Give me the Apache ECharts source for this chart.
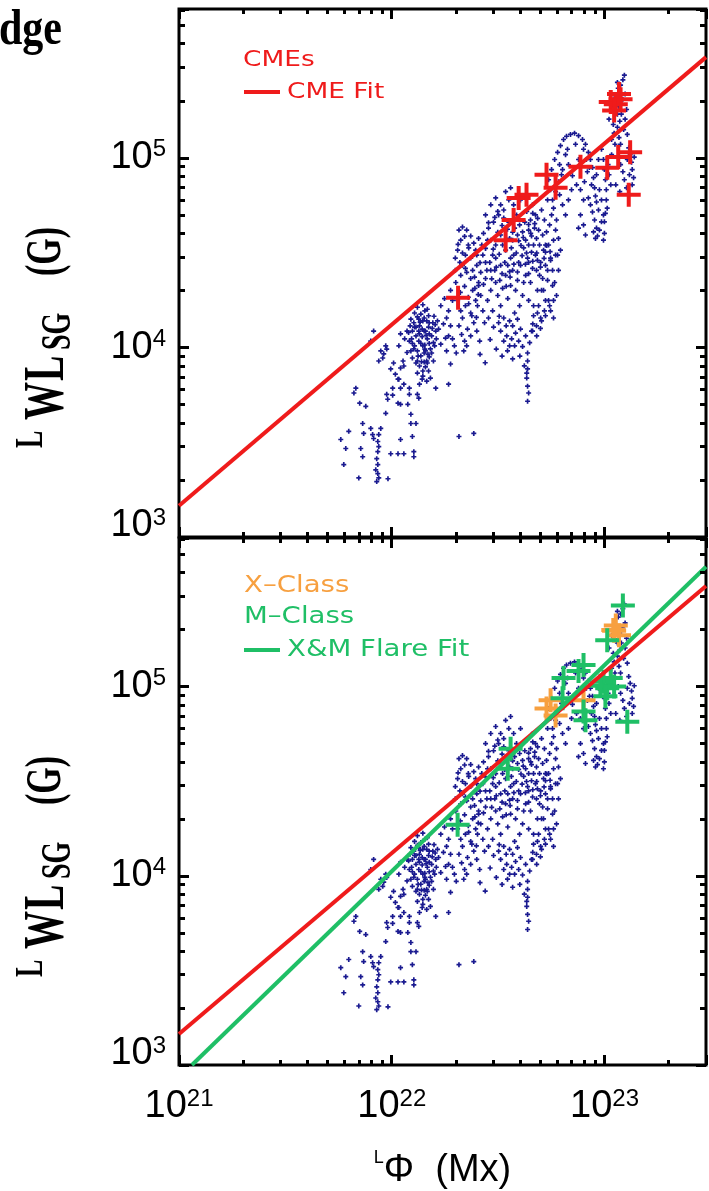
<!DOCTYPE html>
<html><head><meta charset="utf-8">
<script src="https://cdn.jsdelivr.net/npm/echarts@6/dist/echarts.min.js"></script>
<style>html,body{margin:0;padding:0;background:#fff}#c{width:709px;height:1191px}</style>
</head><body><div id="c"></div>
<script>
// Values: x = flux in units of 1e22 Mx, y = field in G
const bgPoints = [
[0.576,3270],[0.608,2930],[0.595,2410],[0.70,2050],[0.628,3610],[0.738,3520],[0.797,3740],[0.73,3970],[0.707,5080],[0.755,4890],
[0.678,6100],[0.664,5750],[0.715,2930],[0.73,2650],[0.813,3470],[0.888,3740],[0.869,3470],[0.86,3190],[0.869,3000],[0.86,2820],
[0.85,2590],[0.86,2410],[0.841,2260],[0.86,2160],[0.85,1960],[0.869,2050],[0.96,2030],[0.822,3310],[0.989,2750],[1.07,2750],
[1.14,2750],[1.27,2820],[1.27,2650],[1.10,3270],[1.25,3390],[1.23,3970],[1.30,3970],[0.937,4490],[1.23,4440],[1.19,5010],
[1.21,5660],[1.14,6400],[1.07,5080],[1.10,5010],[1.34,5400],[1.32,5660],[0.947,5660],[1.01,5600],[0.957,5330],[0.989,7700],
[1.04,7230],[1.07,6800],[1.10,7790],[1.01,6100],[1.02,8280],[1.13,8480],[1.14,7980],[1.08,6800],[1.10,6100],[1.21,6100],
[0.888,9590],[0.917,9250],[0.947,9800],[0.907,8800],[0.822,12200],[0.797,10800],[1.85,6400],[1.89,8180],[2.07,3390],[2.43,3520],
[1.61,6100],[1.52,6890],[1.57,8480],[1.70,10400],[1.79,11200],[1.75,13300],[1.64,13800],[0.937,10200],[0.869,8480],[1.10,11800],
[1.15,11100],[1.08,10200],[1.18,12200],[1.70,16600],[1.77,18100],[1.85,15600],[1.93,17700],[1.89,20000],[1.81,14300],[2.15,27100],
[2.25,24900],
[1.23,14100],[1.27,13500],[1.32,14500],[1.35,13000],[1.40,13800],[1.44,12200],[1.49,12800],[1.25,12200],[1.30,11500],[1.34,10800],
[1.39,11400],[1.43,10300],[1.47,11100],[1.52,9820],[1.28,10200],[1.32,9590],[1.37,9020],[1.42,9350],[1.46,8480],[1.50,8910],
[1.32,8480],[1.35,7980],[1.40,7510],[1.44,7890],[1.54,11500],[1.57,10600],[1.61,12200],[1.21,10800],[1.23,9590],[1.25,8800],
[1.34,12200],[1.39,12500],[1.28,12800],[1.46,13800],[1.37,15000],[1.43,15600],[1.49,14700],[1.56,13500],[1.32,7320],[1.39,6800],
[1.35,6400],[1.42,8380],[1.40,7060],[1.46,6640],[1.49,7510],
[1.22,13000],[1.24,11100],[1.27,9820],[1.30,8280],[1.34,14100],[1.37,10500],[1.42,12200],[1.44,9590],[1.47,8280],[1.50,11800],
[1.54,9350],[1.59,10200],[1.62,11100],[1.32,16300],[1.40,16800],[1.47,15900],
[1.25,10500],[1.30,12800],[1.35,11800],[1.40,10200],[1.45,11600],[1.50,10500],[1.55,12600],[1.60,13200],[1.33,9000],[1.38,8400],
[1.43,9800],[1.48,9200],[1.36,13600],[1.42,14300],[1.28,15200],[1.20,12000],[1.18,9400],[1.50,13500],[1.58,14600],[1.66,12500],
[2.04,17700],[2.11,15600],[2.15,14300],[2.22,16600],[2.29,18400],[2.35,15200],[2.40,20000],[2.48,17700],[2.56,21200],[2.62,18800],
[2.68,15600],[2.07,13000],[2.13,11700],[2.20,10800],[2.27,12500],[2.35,11500],[2.43,13500],[2.51,12200],[2.59,10800],[2.18,9590],
[2.25,10200],[2.38,14700],[2.46,20500],[2.53,16600],[1.89,13000],[1.93,11100],[1.97,10200],[2.01,9350],[1.85,11500],[1.81,9590],
[2.82,17700],[2.92,20000],[2.98,15600],[3.08,22000],[3.15,18800],[3.25,16600],[3.32,20500],[3.43,24000],[3.51,18100],[3.62,21200],
[3.70,25500],[3.82,20000],[3.90,22600],[4.03,27100],[4.12,18800],[4.26,24000],[4.35,29600],[4.49,22000],[4.59,26100],[4.74,30700],
[4.84,20000],[5.01,28100],[5.12,23100],[5.28,31800],[5.40,25500],[5.58,28800],[5.70,21200],[5.89,30700],[5.46,17700],[5.22,15600],
[4.90,16600],[4.64,14700],[4.40,17700],[3.99,16600],[3.78,15200],[3.58,13800],[3.36,14300],[3.18,13500],[3.01,12800],[2.85,14300],
[2.73,13500],[3.70,13000],[3.82,11900],[3.95,10800],[4.03,12500],[4.12,10100],[4.26,11500],[4.35,9350],[4.45,10600],[4.54,12200],
[3.78,10200],[3.90,14100],[4.35,8480],[4.35,7700],[4.31,6890],[4.35,6250],[4.40,5750],[4.35,5200],[4.31,7320],[4.64,16600],
[4.84,15200],[5.06,13800],[5.28,14700],[5.52,16600],[5.76,17700],[3.25,12200],[3.36,10800],[3.47,11500],[3.58,10200],[3.66,11100],
[2.76,23100],
[2.90,11000],[3.10,9800],[3.30,9000],[3.50,9600],[3.70,8700],[2.60,9200],[2.75,8300],[4.00,9000],[4.20,8000],[3.20,14600],
[3.45,13000],[2.50,14400],[4.60,13300],[4.80,11500],[5.00,12600],
[2.00,22000],[2.10,19500],[2.20,21000],[2.30,17000],[2.45,23500],[2.55,19000],[2.70,21500],[2.80,25500],[2.95,23000],[3.10,26500],
[3.30,24500],[3.45,21000],[3.60,23500],[3.75,27500],[3.90,25000],[4.10,30500],[4.25,27500],[4.40,24500],[4.60,28500],[4.80,31500],
[5.00,26500],[5.20,29500],[5.35,34500],[5.55,32000],[3.00,33000],[3.20,31000],[3.40,36500],[3.65,33500],[3.85,31500],[4.05,34500],
[4.30,31500],[4.50,40000],[4.70,45000],[4.85,48000],[2.60,28000],[2.45,31000],[2.30,33500],[2.15,31500],[2.05,35000],[2.20,38500],
[2.70,40000],[2.85,45500],[3.05,48500],[3.30,44000],[3.50,42000],[3.70,40500],[3.95,36500],[4.15,38000],[4.40,44500],[4.60,51000],
[2.07,41600],[2.15,43200],[2.25,41600],[2.35,38700],[2.43,35500],[2.48,32600],[2.11,36800],[2.04,32600],[1.99,29600],[2.09,28100],
[2.22,30700],[2.35,29600],[2.29,34700],[2.56,37600],[1.99,25500],[2.11,24000],[2.22,26100],[2.35,23100],[2.51,27100],[2.62,24900],
[2.76,28100],[2.92,25500],[3.08,29600],[3.25,27100],[3.43,32600],[3.62,29600],[2.76,33300],[2.92,36800],[3.08,34700],[3.25,39200],
[2.68,30700],[2.85,42600],[3.01,45800],[3.18,50000],[3.36,53100],[3.55,45800],[3.70,36800],[3.51,27100],[2.56,22000],[2.40,25500],
[2.76,50000],[2.92,56500],[3.08,61500],[3.25,56500],[3.43,66300],[3.62,69500],[3.55,60000],[3.36,48100],[3.15,52200],[3.74,56500],
[3.86,50000],[3.99,44300],[4.12,40700],[4.26,36800],[4.40,34700],[4.54,38700],[4.69,42600],[4.49,47000],[4.31,52200],[4.03,60000],
[3.90,39200],[4.17,33500],[4.64,34700],[4.79,37600],[4.90,41600],
[2.89,28100],[3.05,25500],[3.22,22600],[3.40,28100],[3.58,25100],[3.74,30700],[3.95,28100],[4.17,22000],[4.40,28100],[4.54,31800],
[4.79,25500],[5.06,20000],[5.17,32600],[4.95,34700],[4.74,50000],[4.59,56500],[4.40,41600],[4.22,45800],[3.78,42600],[3.58,37600],
[3.32,34700],[3.15,40500],[2.98,30700],[2.82,36800],[2.65,34700],[2.51,30700],
[5.06,53100],[5.22,47000],[5.34,40700],[5.46,34700],[5.58,29600],[5.70,25500],[5.83,22000],[5.95,18800],[5.52,44300],[5.76,36800],
[6.02,30700],[5.89,41600],[5.64,50000],[5.28,27100],[5.40,22600],[5.17,20000],[4.95,24000],[4.84,28800],[6.08,25500],[5.28,17700],
[5.58,15600],[5.76,14300],[5.01,14300],[4.79,13000],[4.59,12200],
[5.12,39200],[5.28,34700],[5.40,60000],[5.58,67900],[5.76,54300],[5.95,47000],[6.08,37600],[6.21,32600],
[5.46,76700],[5.64,86700],[5.83,98000],[6.02,107000],[6.21,116000],[6.42,125000],[6.63,130000],[6.92,133000],[7.23,135000],[7.55,131000],
[7.88,125000],[8.14,118000],[8.40,107000],[8.59,98000],[8.78,88900],[8.88,78600],[8.98,69500],[9.07,62900],[8.31,84500],[8.05,74800],
[7.71,67900],[7.39,72100],[7.07,80500],[6.77,92200],[6.56,104000],[6.35,86700],[6.08,74800],[5.89,66300],[5.70,60000],[6.15,63800],
[6.70,111000],[7.31,118000],[8.22,98000],[7.55,98000],[7.00,67900],[7.97,60000],[6.28,81500],[6.15,92200],
[7.97,111000],[8.50,88900],[8.69,72100],[9.17,81500],[9.37,98000],[9.47,67900],[9.68,60000],
[8.40,61500],[8.59,56500],[8.78,51800],[8.98,47000],[9.17,42600],[9.27,38700],[9.47,41600],[9.68,46000],[9.89,50000],[9.37,53100],
[9.17,58500],[8.88,40700],[9.07,37600],[6.77,60000],[6.56,50000],[6.35,56500],[7.55,42600],[7.71,50000],[7.97,44300],[8.14,39200],
[9.68,111000],[9.89,98000],[9.99,86700],[10.1,76700],[10.2,67900],[10.2,60000],[10.3,54300],[10.1,51000],[10.4,92200],[10.5,81500],
[10.7,72100],[10.8,104000],[9.99,46000],[9.99,40000],[9.89,36800],
[12.4,273000],[12.2,258000],[11.9,242000],[11.6,233000],[11.3,209000],[11.1,197000],[10.8,186000],[11.2,178000],[11.7,186000],[12.2,204000],
[12.0,170000],[11.8,156000],[11.5,145000],[11.1,135000],[10.8,125000],[11.2,118000],[11.7,128000],[12.3,141000],[12.5,160000],[11.9,118000],
[10.5,160000],[11.0,150000],[11.5,170000],[11.8,192000],[11.5,250000],[12.5,217000],[12.7,180000],[12.8,133000],
[13.0,113000],[13.2,104000],[13.4,94800],[13.5,86700],[13.7,78600],[13.5,72100],[12.8,98000],[13.1,81500],[12.7,69500],[12.4,76700],
[12.2,84500],[11.9,92200],[11.6,100000],[11.3,72100],[11.8,66300],[13.8,101000]
];
const cmeEvents = [
[2.05,18300],[3.43,36800],[3.74,47000],[3.95,61500],[4.30,63800],[5.34,81500],[5.89,69500],[7.71,89700],[10.3,88800],
[11.6,101000],[13.2,107000],[13.0,63800],[11.3,192000],[10.7,197000],[11.9,204000],[11.1,178000],[11.7,217000]
];
const xClassFlares = [
[5.34,76700],[5.89,70400],[5.58,84600],[7.97,84600],[11.1,197000],[11.0,199000],[11.7,187000],[11.3,210000]
];
const mClassFlares = [
[12.2,268000],[10.3,176000],[7.97,130000],[7.55,121000],[6.42,111000],[6.35,86700],[9.89,106000],[10.7,111000],
[10.3,98000],[9.57,101000],[11.1,100000],[10.1,88900],[8.14,66300],[7.97,73800],[12.8,65100],[3.62,47000],[3.51,36800],[2.04,18600]
];
const cmeFit = [[0.1,1460],[30,340000]];
const flareFit = [[0.115,1000],[30,430000]];
const xMinorTicks = [2e21,3e21,4e21,5e21,6e21,7e21,8e21,9e21,2e22,3e22,4e22,5e22,6e22,7e22,8e22,9e22,2e23];
const yMinorTicks = [2e3,3e3,4e3,5e3,6e3,7e3,8e3,9e3,2e4,3e4,4e4,5e4,6e4,7e4,8e4,9e4,2e5,3e5,4e5,5e5,6e5];

const X_MIN=1e21, X_MAX=3e23, Y_MIN=1e3, Y_MAX=6.1e5;
const RED='#ef1b1b', ORANGE='#f7a040', GREEN='#1fbf66', NAVY='#1a1a90';
const toMx = a => a.map(p => [p[0]*1e22, p[1]]);
const dotSymbol = 'path://M1,0H2V1H3V2H2V3H1V2H0V1H1Z';
const crossSymbol = 'path://M10,0H14V10H24V14H14V24H10V14H0V10H10Z';

function isPow(v){ const e=Math.log10(v); return Math.abs(e-Math.round(e))<1e-6; }
function xLabel(v){ if(!isPow(v)) return ''; return '{b|10}{s|'+Math.round(Math.log10(v))+'}'; }
function yLabel(v){ if(!isPow(v)) return ''; const r=Math.round(Math.log10(v));
  if(r===3) return '{b|10}{s|3}\n{g| }'; return '{b|10}{s|'+r+'}'; }
const LF='Liberation Sans';
const tickRich = {
  b:{fontFamily:LF, fontSize:38, lineHeight:40, color:'#000'},
  s:{fontFamily:LF, fontSize:24, lineHeight:14, color:'#000', verticalAlign:'top'},
  g:{fontSize:10, lineHeight:22}
};
const majorTick = {show:true, inside:true, length:10, lineStyle:{color:'#000', width:3}};
function xAxisCfg(gi, pos, showLabels){
  const c = {type:'log', logBase:10, gridIndex:gi, position:pos, min:X_MIN, max:X_MAX, z:10,
    axisLine:{show:false}, axisTick:majorTick, splitLine:{show:false}, minorTick:{show:false},
    axisLabel:{show:showLabels, formatter:xLabel, rich:tickRich, margin:22}};
  if(showLabels){
    c.name='{p|L}{m|Φ  (Mx)}'; c.nameLocation='middle'; c.nameGap=84;
    c.nameTextStyle={rich:{p:{fontFamily:LF,fontSize:18,lineHeight:16,verticalAlign:'top',color:'#000'},
      m:{fontFamily:LF,fontSize:38,lineHeight:44,color:'#000'}}};
  }
  return c;
}
function yAxisCfg(gi, pos, showLabels){
  return {type:'log', logBase:10, gridIndex:gi, position:pos, min:Y_MIN, max:Y_MAX, z:10,
    axisLine:{show:false}, axisTick:majorTick, splitLine:{show:false}, minorTick:{show:false},
    axisLabel:{show:showLabels, formatter:yLabel, rich:tickRich, margin:13}};
}
// Minor-tick overlay axes: linear axes in decades (log10 units) spanning the same extent
function tickAxis(gi, pos, lo, hi, ticks, len){
  return {type:'value', gridIndex:gi, position:pos, min:Math.log10(lo), max:Math.log10(hi), z:10,
    axisLine:{show:false}, splitLine:{show:false}, axisLabel:{show:false, customValues:ticks.map(Math.log10)}, minorTick:{show:false},
    axisTick:{show:true, inside:true, length:len, customValues:ticks.map(Math.log10), lineStyle:{color:'#000', width:3}}};
}
function scatter(data,color,size,symbol,gi,z){
  return {type:'scatter', xAxisIndex:gi, yAxisIndex:gi, data:toMx(data), symbol:symbol, symbolSize:size,
    itemStyle:{color:color, opacity:1}, z:z, silent:true};
}
function fitLine(data,color,gi,z){
  return {type:'line', xAxisIndex:gi, yAxisIndex:gi, data:toMx(data), symbol:'none', showSymbol:false,
    lineStyle:{color:color,width:4}, z:z, silent:true, clip:true};
}
const TF='Liberation Serif';
function tPart(txt,x,y,size){
  return {type:'text', x:x, y:y, silent:true,
    style:{text:txt, fill:'#000', fontSize:size, fontWeight:'bold', fontFamily:TF,
      align:'left', textAlign:'left', verticalAlign:'middle', textVerticalAlign:'middle'}};
}
function yTitle(cy){
  return {type:'group', x:47, y:cy, rotation:Math.PI/2, scaleY:1.5, silent:true,
    children:[tPart('L',-110,-10,26), tPart('W',-82,1,38), tPart('L',-43,1,38),
              tPart('SG',-12,8,28), tPart('(G)',62,0,34)]};
}
function legText(txt,x,y,color,size){
  return {type:'text', x:x, y:y, scaleX:1.2, silent:true,
    style:{text:txt, fill:color, fontSize:size, fontFamily:'DejaVu Sans', verticalAlign:'middle', textVerticalAlign:'middle'}};
}
function legLine(x1,x2,y,color){
  return {type:'line', silent:true, shape:{x1:x1,y1:y,x2:x2,y2:y}, style:{stroke:color,lineWidth:4}};
}

const xAxes = [xAxisCfg(0,'bottom',false), xAxisCfg(1,'bottom',true), xAxisCfg(0,'top',false), xAxisCfg(1,'top',false)];
const yAxes = [yAxisCfg(0,'left',true), yAxisCfg(1,'left',true), yAxisCfg(0,'right',false), yAxisCfg(1,'right',false)];
[0,1].forEach(gi => {
  ['bottom','top'].forEach(pos => xAxes.push(tickAxis(gi,pos,X_MIN,X_MAX,xMinorTicks,5)));
  ['left','right'].forEach(pos => yAxes.push(tickAxis(gi,pos,Y_MIN,Y_MAX,yMinorTicks,6)));
});

const chart = echarts.init(document.getElementById('c'), null, {renderer:'canvas'});
chart.setOption({
  animation:false,
  backgroundColor:'#fff',
  grid:[
    {left:179, top:9, width:527, height:528, show:true, z:0, borderColor:'#000', borderWidth:3},
    {left:179, top:538, width:527, height:528, show:true, z:0, borderColor:'#000', borderWidth:3}
  ],
  xAxis:xAxes,
  yAxis:yAxes,
  series:[
    scatter(bgPoints,NAVY,5,dotSymbol,0,2),
    scatter(cmeEvents,RED,24,crossSymbol,0,3),
    fitLine(cmeFit,RED,0,4),
    scatter(bgPoints,NAVY,5,dotSymbol,1,2),
    scatter(xClassFlares,ORANGE,24,crossSymbol,1,3),
    scatter(mClassFlares,GREEN,24,crossSymbol,1,3),
    fitLine(cmeFit,RED,1,4),
    fitLine(flareFit,GREEN,1,4)
  ],
  graphic:[
    {type:'text', x:-1, y:31, scaleY:1.2, silent:true, style:{text:'dge', fill:'#000', fontSize:42, fontWeight:'bold', fontFamily:'Liberation Serif', verticalAlign:'middle', textVerticalAlign:'middle'}},
    yTitle(338),
    yTitle(867),
    legText('CMEs',243,60,RED,22),
    legLine(244,280,92,RED),
    legText('CME Fit',287,92,RED,22),
    legText('X–Class',244,586,ORANGE,23),
    legText('M–Class',244,617,GREEN,23),
    legLine(244,280,650,GREEN),
    legText('X&M Flare Fit',287,650,GREEN,23)
  ]
});
</script></body></html>
